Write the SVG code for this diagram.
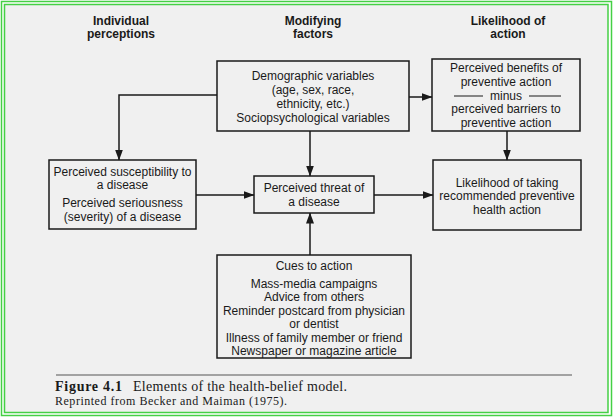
<svg xmlns="http://www.w3.org/2000/svg" width="613" height="418" viewBox="0 0 613 418">
  <defs>
    <marker id="arr" markerUnits="userSpaceOnUse" markerWidth="11" markerHeight="8" refX="10.5" refY="4" orient="auto">
      <path d="M0,0 L11,4 L0,8 z" fill="#1a1a1a"/>
    </marker>
    <style>
      .box { fill: none; stroke: #1a1a1a; stroke-width: 1.5; }
      .t { font-family: "Liberation Sans", Arial, sans-serif; font-size: 12px; fill: #1a1a1a; text-anchor: middle; }
      .h { font-family: "Liberation Sans", Arial, sans-serif; font-size: 12px; font-weight: bold; fill: #1a1a1a; text-anchor: middle; }
      .cap { font-family: "Liberation Serif", "Times New Roman", serif; fill: #1a1a1a; }
      .con { fill: none; stroke: #1a1a1a; stroke-width: 1.5; }
      .frame { fill: none; stroke: #45d045; stroke-width: 1.5; }
    </style>
  </defs>
  <rect x="0" y="0" width="613" height="418" fill="#ffffff"/>
  <rect x="4.5" y="4.5" width="603.5" height="408" fill="#f0f0f0"/>
  <rect class="frame" x="1.5" y="1.5" width="610" height="414"/>
  <rect class="frame" x="4.5" y="4.5" width="603.5" height="408"/>

  <g id="headers">
    <text class="h" x="121" y="24.5">Individual</text>
    <text class="h" x="121" y="38">perceptions</text>
    <text class="h" x="313" y="24.5">Modifying</text>
    <text class="h" x="313" y="38">factors</text>
    <text class="h" x="508" y="24.5">Likelihood of</text>
    <text class="h" x="508" y="38">action</text>
  </g>

  <g id="connectors">
    <path class="con" d="M217,95 H119 V160" marker-end="url(#arr)"/>
    <path class="con" d="M409,97 H432" marker-end="url(#arr)"/>
    <path class="con" d="M310,131 V176" marker-end="url(#arr)"/>
    <path class="con" d="M507,131 V160" marker-end="url(#arr)"/>
    <path class="con" d="M196,195 H254" marker-end="url(#arr)"/>
    <path class="con" d="M374,195 H433" marker-end="url(#arr)"/>
    <path class="con" d="M310,255 V213" marker-end="url(#arr)"/>
  </g>

  <g id="demographic">
    <rect class="box" x="217" y="61" width="192" height="70"/>
    <text class="t" x="313" y="80">Demographic variables</text>
    <text class="t" x="313" y="94">(age, sex, race,</text>
    <text class="t" x="313" y="108">ethnicity, etc.)</text>
    <text class="t" x="313" y="122">Sociopsychological variables</text>
  </g>

  <g id="benefits">
    <rect class="box" x="432" y="59" width="148" height="72"/>
    <text class="t" x="506" y="72">Perceived benefits of</text>
    <text class="t" x="506" y="85.5">preventive action</text>
    <text class="t" x="506" y="99.5">minus</text>
    <line x1="454" y1="96" x2="483" y2="96" stroke="#1a1a1a" stroke-width="1"/>
    <line x1="529" y1="96" x2="561" y2="96" stroke="#1a1a1a" stroke-width="1"/>
    <text class="t" x="506" y="113">perceived barriers to</text>
    <text class="t" x="506" y="126.5">preventive action</text>
  </g>

  <g id="susceptibility">
    <rect class="box" x="49" y="160" width="147" height="69"/>
    <text class="t" x="122.5" y="176">Perceived susceptibility to</text>
    <text class="t" x="122.5" y="189">a disease</text>
    <text class="t" x="122.5" y="207">Perceived seriousness</text>
    <text class="t" x="122.5" y="221">(severity) of a disease</text>
  </g>

  <g id="threat">
    <rect class="box" x="254" y="176" width="120" height="37"/>
    <text class="t" x="314" y="192">Perceived threat of</text>
    <text class="t" x="314" y="206">a disease</text>
  </g>

  <g id="likelihood">
    <rect class="box" x="433" y="160" width="148" height="70"/>
    <text class="t" x="507" y="186.5">Likelihood of taking</text>
    <text class="t" x="507" y="200">recommended preventive</text>
    <text class="t" x="507" y="213.5">health action</text>
  </g>

  <g id="cues">
    <rect class="box" x="217" y="255" width="194" height="103"/>
    <text class="t" x="314" y="270">Cues to action</text>
    <text class="t" x="314" y="287.5">Mass-media campaigns</text>
    <text class="t" x="314" y="301">Advice from others</text>
    <text class="t" x="314" y="314.5">Reminder postcard from physician</text>
    <text class="t" x="314" y="328">or dentist</text>
    <text class="t" x="314" y="341.5">Illness of family member or friend</text>
    <text class="t" x="314" y="355">Newspaper or magazine article</text>
  </g>

  <g id="caption">
    <line x1="56" y1="375" x2="572" y2="375" stroke="#555555" stroke-width="1"/>
    <text class="cap" x="55" y="391" font-size="14" font-weight="bold" textLength="67" lengthAdjust="spacing">Figure 4.1</text>
    <text class="cap" x="133" y="391" font-size="14" textLength="214" lengthAdjust="spacing">Elements of the health-belief model.</text>
    <text class="cap" x="55" y="405" font-size="12" textLength="232" lengthAdjust="spacing">Reprinted from Becker and Maiman (1975).</text>
  </g>
</svg>
